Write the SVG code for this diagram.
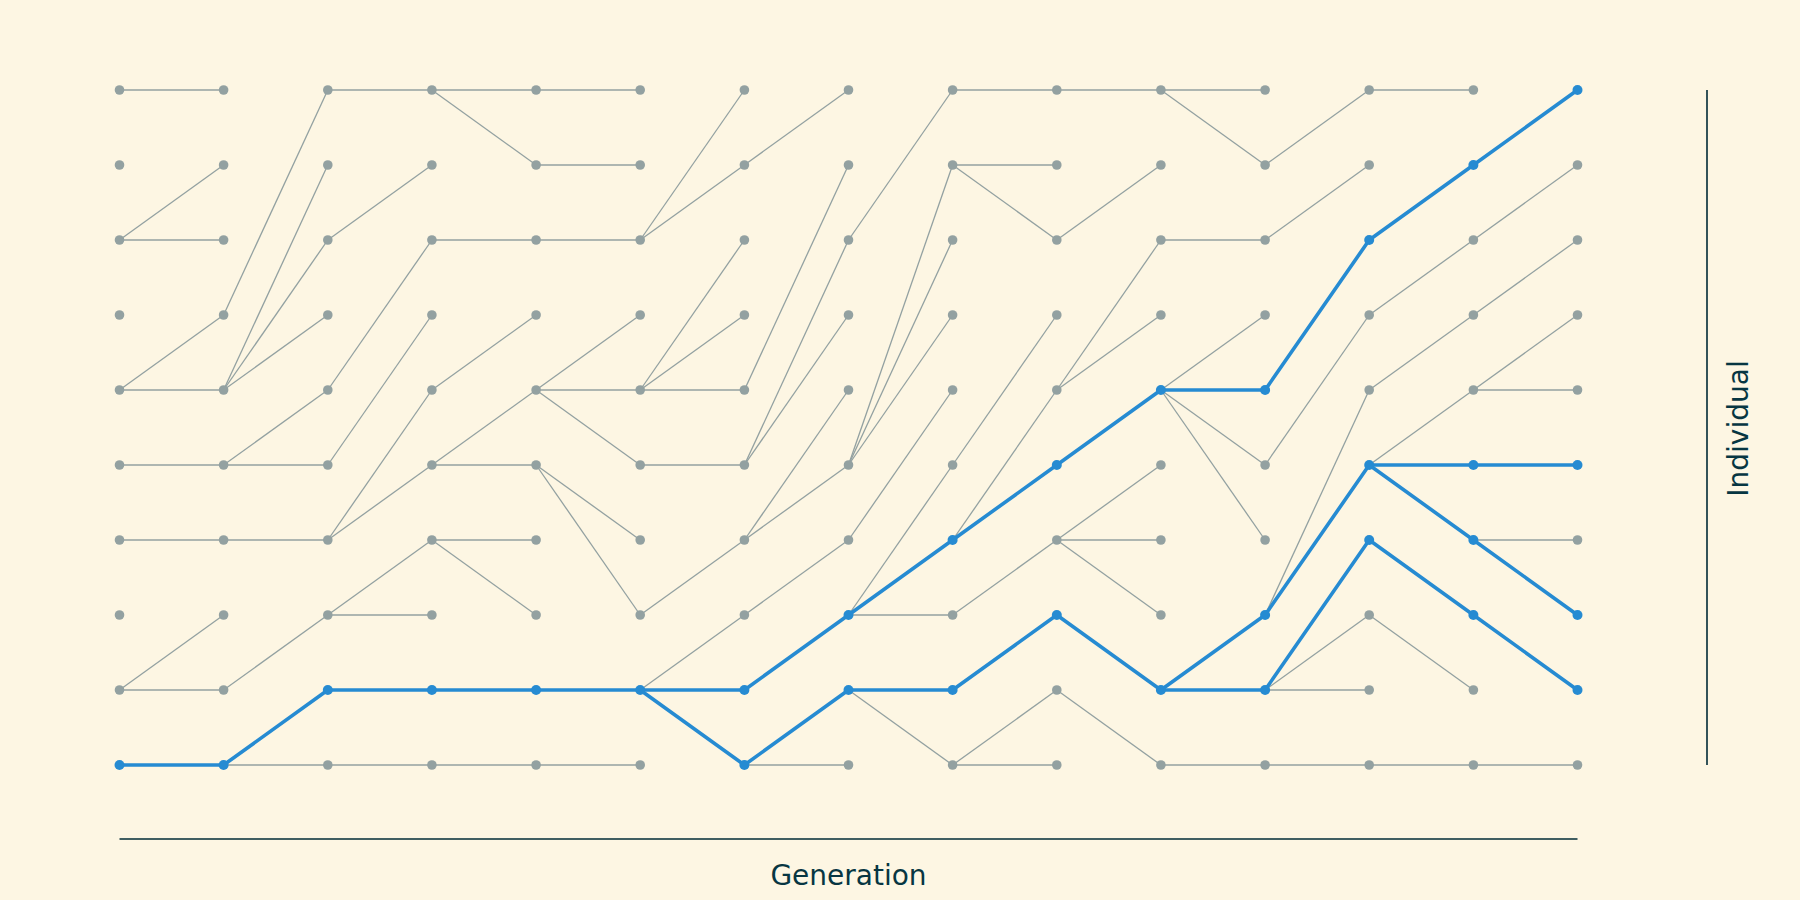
<svg xmlns="http://www.w3.org/2000/svg" width="1800" height="900" viewBox="0 0 1800 900">
<style>
.bg{fill:#fdf6e3}
.e{stroke:#93a1a1;stroke-width:1.3;fill:none}
.b{stroke:#268bd2;stroke-width:3.6;stroke-linecap:round;fill:none}
.n{fill:#93a1a1}
.nb{fill:#268bd2}
.ax{stroke:#002b36;stroke-width:1.6}
.lbl{font-family:"DejaVu Sans",sans-serif;font-size:28px;fill:#073642;text-anchor:middle}
</style>
<rect class="bg" x="0" y="0" width="1800" height="900"/>
<g id="axes">
<line class="ax" x1="119.5" y1="839" x2="1577.5" y2="839"/>
<line class="ax" x1="1707" y1="90" x2="1707" y2="765"/>
<text class="lbl" x="848.5" y="885">Generation</text>
<text class="lbl" transform="translate(1748,428.5) rotate(-90)">Individual</text>
</g>
<g id="connectors">
<line class="e" x1="119.5" y1="90" x2="223.6" y2="90"/>
<line class="e" x1="119.5" y1="240" x2="223.6" y2="165"/>
<line class="e" x1="119.5" y1="240" x2="223.6" y2="240"/>
<line class="e" x1="119.5" y1="390" x2="223.6" y2="315"/>
<line class="e" x1="119.5" y1="390" x2="223.6" y2="390"/>
<line class="e" x1="119.5" y1="465" x2="223.6" y2="465"/>
<line class="e" x1="119.5" y1="540" x2="223.6" y2="540"/>
<line class="e" x1="119.5" y1="690" x2="223.6" y2="615"/>
<line class="e" x1="119.5" y1="690" x2="223.6" y2="690"/>
<line class="e" x1="223.6" y1="315" x2="327.8" y2="90"/>
<line class="e" x1="223.6" y1="390" x2="327.8" y2="165"/>
<line class="e" x1="223.6" y1="390" x2="327.8" y2="240"/>
<line class="e" x1="223.6" y1="390" x2="327.8" y2="315"/>
<line class="e" x1="223.6" y1="465" x2="327.8" y2="390"/>
<line class="e" x1="223.6" y1="465" x2="327.8" y2="465"/>
<line class="e" x1="223.6" y1="540" x2="327.8" y2="540"/>
<line class="e" x1="223.6" y1="690" x2="327.8" y2="615"/>
<line class="e" x1="223.6" y1="765" x2="327.8" y2="765"/>
<line class="e" x1="327.8" y1="90" x2="431.9" y2="90"/>
<line class="e" x1="327.8" y1="240" x2="431.9" y2="165"/>
<line class="e" x1="327.8" y1="390" x2="431.9" y2="240"/>
<line class="e" x1="327.8" y1="465" x2="431.9" y2="315"/>
<line class="e" x1="327.8" y1="540" x2="431.9" y2="390"/>
<line class="e" x1="327.8" y1="540" x2="431.9" y2="465"/>
<line class="e" x1="327.8" y1="615" x2="431.9" y2="540"/>
<line class="e" x1="327.8" y1="615" x2="431.9" y2="615"/>
<line class="e" x1="327.8" y1="765" x2="431.9" y2="765"/>
<line class="e" x1="431.9" y1="90" x2="536.1" y2="90"/>
<line class="e" x1="431.9" y1="90" x2="536.1" y2="165"/>
<line class="e" x1="431.9" y1="240" x2="536.1" y2="240"/>
<line class="e" x1="431.9" y1="390" x2="536.1" y2="315"/>
<line class="e" x1="431.9" y1="465" x2="536.1" y2="390"/>
<line class="e" x1="431.9" y1="465" x2="536.1" y2="465"/>
<line class="e" x1="431.9" y1="540" x2="536.1" y2="540"/>
<line class="e" x1="431.9" y1="540" x2="536.1" y2="615"/>
<line class="e" x1="431.9" y1="765" x2="536.1" y2="765"/>
<line class="e" x1="536.1" y1="90" x2="640.2" y2="90"/>
<line class="e" x1="536.1" y1="165" x2="640.2" y2="165"/>
<line class="e" x1="536.1" y1="240" x2="640.2" y2="240"/>
<line class="e" x1="536.1" y1="390" x2="640.2" y2="315"/>
<line class="e" x1="536.1" y1="390" x2="640.2" y2="390"/>
<line class="e" x1="536.1" y1="390" x2="640.2" y2="465"/>
<line class="e" x1="536.1" y1="465" x2="640.2" y2="540"/>
<line class="e" x1="536.1" y1="465" x2="640.2" y2="615"/>
<line class="e" x1="536.1" y1="765" x2="640.2" y2="765"/>
<line class="e" x1="640.2" y1="240" x2="744.4" y2="90"/>
<line class="e" x1="640.2" y1="240" x2="744.4" y2="165"/>
<line class="e" x1="640.2" y1="390" x2="744.4" y2="240"/>
<line class="e" x1="640.2" y1="390" x2="744.4" y2="315"/>
<line class="e" x1="640.2" y1="390" x2="744.4" y2="390"/>
<line class="e" x1="640.2" y1="465" x2="744.4" y2="465"/>
<line class="e" x1="640.2" y1="615" x2="744.4" y2="540"/>
<line class="e" x1="640.2" y1="690" x2="744.4" y2="615"/>
<line class="e" x1="744.4" y1="165" x2="848.5" y2="90"/>
<line class="e" x1="744.4" y1="390" x2="848.5" y2="165"/>
<line class="e" x1="744.4" y1="465" x2="848.5" y2="240"/>
<line class="e" x1="744.4" y1="465" x2="848.5" y2="315"/>
<line class="e" x1="744.4" y1="540" x2="848.5" y2="390"/>
<line class="e" x1="744.4" y1="540" x2="848.5" y2="465"/>
<line class="e" x1="744.4" y1="615" x2="848.5" y2="540"/>
<line class="e" x1="744.4" y1="765" x2="848.5" y2="765"/>
<line class="e" x1="848.5" y1="240" x2="952.6" y2="90"/>
<line class="e" x1="848.5" y1="465" x2="952.6" y2="165"/>
<line class="e" x1="848.5" y1="465" x2="952.6" y2="240"/>
<line class="e" x1="848.5" y1="465" x2="952.6" y2="315"/>
<line class="e" x1="848.5" y1="540" x2="952.6" y2="390"/>
<line class="e" x1="848.5" y1="615" x2="952.6" y2="465"/>
<line class="e" x1="848.5" y1="615" x2="952.6" y2="615"/>
<line class="e" x1="848.5" y1="690" x2="952.6" y2="765"/>
<line class="e" x1="952.6" y1="90" x2="1056.8" y2="90"/>
<line class="e" x1="952.6" y1="165" x2="1056.8" y2="165"/>
<line class="e" x1="952.6" y1="165" x2="1056.8" y2="240"/>
<line class="e" x1="952.6" y1="465" x2="1056.8" y2="315"/>
<line class="e" x1="952.6" y1="540" x2="1056.8" y2="390"/>
<line class="e" x1="952.6" y1="615" x2="1056.8" y2="540"/>
<line class="e" x1="952.6" y1="765" x2="1056.8" y2="690"/>
<line class="e" x1="952.6" y1="765" x2="1056.8" y2="765"/>
<line class="e" x1="1056.8" y1="90" x2="1160.9" y2="90"/>
<line class="e" x1="1056.8" y1="240" x2="1160.9" y2="165"/>
<line class="e" x1="1056.8" y1="390" x2="1160.9" y2="240"/>
<line class="e" x1="1056.8" y1="390" x2="1160.9" y2="315"/>
<line class="e" x1="1056.8" y1="540" x2="1160.9" y2="465"/>
<line class="e" x1="1056.8" y1="540" x2="1160.9" y2="540"/>
<line class="e" x1="1056.8" y1="540" x2="1160.9" y2="615"/>
<line class="e" x1="1056.8" y1="690" x2="1160.9" y2="765"/>
<line class="e" x1="1160.9" y1="90" x2="1265.1" y2="90"/>
<line class="e" x1="1160.9" y1="90" x2="1265.1" y2="165"/>
<line class="e" x1="1160.9" y1="240" x2="1265.1" y2="240"/>
<line class="e" x1="1160.9" y1="390" x2="1265.1" y2="315"/>
<line class="e" x1="1160.9" y1="390" x2="1265.1" y2="465"/>
<line class="e" x1="1160.9" y1="390" x2="1265.1" y2="540"/>
<line class="e" x1="1160.9" y1="765" x2="1265.1" y2="765"/>
<line class="e" x1="1265.1" y1="165" x2="1369.2" y2="90"/>
<line class="e" x1="1265.1" y1="240" x2="1369.2" y2="165"/>
<line class="e" x1="1265.1" y1="465" x2="1369.2" y2="315"/>
<line class="e" x1="1265.1" y1="615" x2="1369.2" y2="390"/>
<line class="e" x1="1265.1" y1="690" x2="1369.2" y2="615"/>
<line class="e" x1="1265.1" y1="690" x2="1369.2" y2="690"/>
<line class="e" x1="1265.1" y1="765" x2="1369.2" y2="765"/>
<line class="e" x1="1369.2" y1="90" x2="1473.4" y2="90"/>
<line class="e" x1="1369.2" y1="315" x2="1473.4" y2="240"/>
<line class="e" x1="1369.2" y1="390" x2="1473.4" y2="315"/>
<line class="e" x1="1369.2" y1="465" x2="1473.4" y2="390"/>
<line class="e" x1="1369.2" y1="615" x2="1473.4" y2="690"/>
<line class="e" x1="1369.2" y1="765" x2="1473.4" y2="765"/>
<line class="e" x1="1473.4" y1="240" x2="1577.5" y2="165"/>
<line class="e" x1="1473.4" y1="315" x2="1577.5" y2="240"/>
<line class="e" x1="1473.4" y1="390" x2="1577.5" y2="315"/>
<line class="e" x1="1473.4" y1="390" x2="1577.5" y2="390"/>
<line class="e" x1="1473.4" y1="540" x2="1577.5" y2="540"/>
<line class="e" x1="1473.4" y1="765" x2="1577.5" y2="765"/>
<line class="b" x1="119.5" y1="765" x2="223.6" y2="765"/>
<line class="b" x1="223.6" y1="765" x2="327.8" y2="690"/>
<line class="b" x1="327.8" y1="690" x2="431.9" y2="690"/>
<line class="b" x1="431.9" y1="690" x2="536.1" y2="690"/>
<line class="b" x1="536.1" y1="690" x2="640.2" y2="690"/>
<line class="b" x1="640.2" y1="690" x2="744.4" y2="690"/>
<line class="b" x1="744.4" y1="690" x2="848.5" y2="615"/>
<line class="b" x1="848.5" y1="615" x2="952.6" y2="540"/>
<line class="b" x1="952.6" y1="540" x2="1056.8" y2="465"/>
<line class="b" x1="1056.8" y1="465" x2="1160.9" y2="390"/>
<line class="b" x1="1160.9" y1="390" x2="1265.1" y2="390"/>
<line class="b" x1="1265.1" y1="390" x2="1369.2" y2="240"/>
<line class="b" x1="1369.2" y1="240" x2="1473.4" y2="165"/>
<line class="b" x1="1473.4" y1="165" x2="1577.5" y2="90"/>
<line class="b" x1="640.2" y1="690" x2="744.4" y2="765"/>
<line class="b" x1="744.4" y1="765" x2="848.5" y2="690"/>
<line class="b" x1="848.5" y1="690" x2="952.6" y2="690"/>
<line class="b" x1="952.6" y1="690" x2="1056.8" y2="615"/>
<line class="b" x1="1056.8" y1="615" x2="1160.9" y2="690"/>
<line class="b" x1="1160.9" y1="690" x2="1265.1" y2="615"/>
<line class="b" x1="1265.1" y1="615" x2="1369.2" y2="465"/>
<line class="b" x1="1369.2" y1="465" x2="1473.4" y2="465"/>
<line class="b" x1="1473.4" y1="465" x2="1577.5" y2="465"/>
<line class="b" x1="1369.2" y1="465" x2="1473.4" y2="540"/>
<line class="b" x1="1473.4" y1="540" x2="1577.5" y2="615"/>
<line class="b" x1="1160.9" y1="690" x2="1265.1" y2="690"/>
<line class="b" x1="1265.1" y1="690" x2="1369.2" y2="540"/>
<line class="b" x1="1369.2" y1="540" x2="1473.4" y2="615"/>
<line class="b" x1="1473.4" y1="615" x2="1577.5" y2="690"/>
</g>
<g id="nodes">
<g id="n0-0"><circle class="n" cx="119.5" cy="90" r="4.8"/></g>
<g id="n0-1"><circle class="n" cx="119.5" cy="165" r="4.8"/></g>
<g id="n0-2"><circle class="n" cx="119.5" cy="240" r="4.8"/></g>
<g id="n0-3"><circle class="n" cx="119.5" cy="315" r="4.8"/></g>
<g id="n0-4"><circle class="n" cx="119.5" cy="390" r="4.8"/></g>
<g id="n0-5"><circle class="n" cx="119.5" cy="465" r="4.8"/></g>
<g id="n0-6"><circle class="n" cx="119.5" cy="540" r="4.8"/></g>
<g id="n0-7"><circle class="n" cx="119.5" cy="615" r="4.8"/></g>
<g id="n0-8"><circle class="n" cx="119.5" cy="690" r="4.8"/></g>
<g id="n0-9"><circle class="nb" cx="119.5" cy="765" r="5"/></g>
<g id="n1-0"><circle class="n" cx="223.6" cy="90" r="4.8"/></g>
<g id="n1-1"><circle class="n" cx="223.6" cy="165" r="4.8"/></g>
<g id="n1-2"><circle class="n" cx="223.6" cy="240" r="4.8"/></g>
<g id="n1-3"><circle class="n" cx="223.6" cy="315" r="4.8"/></g>
<g id="n1-4"><circle class="n" cx="223.6" cy="390" r="4.8"/></g>
<g id="n1-5"><circle class="n" cx="223.6" cy="465" r="4.8"/></g>
<g id="n1-6"><circle class="n" cx="223.6" cy="540" r="4.8"/></g>
<g id="n1-7"><circle class="n" cx="223.6" cy="615" r="4.8"/></g>
<g id="n1-8"><circle class="n" cx="223.6" cy="690" r="4.8"/></g>
<g id="n1-9"><circle class="nb" cx="223.6" cy="765" r="5"/></g>
<g id="n2-0"><circle class="n" cx="327.8" cy="90" r="4.8"/></g>
<g id="n2-1"><circle class="n" cx="327.8" cy="165" r="4.8"/></g>
<g id="n2-2"><circle class="n" cx="327.8" cy="240" r="4.8"/></g>
<g id="n2-3"><circle class="n" cx="327.8" cy="315" r="4.8"/></g>
<g id="n2-4"><circle class="n" cx="327.8" cy="390" r="4.8"/></g>
<g id="n2-5"><circle class="n" cx="327.8" cy="465" r="4.8"/></g>
<g id="n2-6"><circle class="n" cx="327.8" cy="540" r="4.8"/></g>
<g id="n2-7"><circle class="n" cx="327.8" cy="615" r="4.8"/></g>
<g id="n2-8"><circle class="nb" cx="327.8" cy="690" r="5"/></g>
<g id="n2-9"><circle class="n" cx="327.8" cy="765" r="4.8"/></g>
<g id="n3-0"><circle class="n" cx="431.9" cy="90" r="4.8"/></g>
<g id="n3-1"><circle class="n" cx="431.9" cy="165" r="4.8"/></g>
<g id="n3-2"><circle class="n" cx="431.9" cy="240" r="4.8"/></g>
<g id="n3-3"><circle class="n" cx="431.9" cy="315" r="4.8"/></g>
<g id="n3-4"><circle class="n" cx="431.9" cy="390" r="4.8"/></g>
<g id="n3-5"><circle class="n" cx="431.9" cy="465" r="4.8"/></g>
<g id="n3-6"><circle class="n" cx="431.9" cy="540" r="4.8"/></g>
<g id="n3-7"><circle class="n" cx="431.9" cy="615" r="4.8"/></g>
<g id="n3-8"><circle class="nb" cx="431.9" cy="690" r="5"/></g>
<g id="n3-9"><circle class="n" cx="431.9" cy="765" r="4.8"/></g>
<g id="n4-0"><circle class="n" cx="536.1" cy="90" r="4.8"/></g>
<g id="n4-1"><circle class="n" cx="536.1" cy="165" r="4.8"/></g>
<g id="n4-2"><circle class="n" cx="536.1" cy="240" r="4.8"/></g>
<g id="n4-3"><circle class="n" cx="536.1" cy="315" r="4.8"/></g>
<g id="n4-4"><circle class="n" cx="536.1" cy="390" r="4.8"/></g>
<g id="n4-5"><circle class="n" cx="536.1" cy="465" r="4.8"/></g>
<g id="n4-6"><circle class="n" cx="536.1" cy="540" r="4.8"/></g>
<g id="n4-7"><circle class="n" cx="536.1" cy="615" r="4.8"/></g>
<g id="n4-8"><circle class="nb" cx="536.1" cy="690" r="5"/></g>
<g id="n4-9"><circle class="n" cx="536.1" cy="765" r="4.8"/></g>
<g id="n5-0"><circle class="n" cx="640.2" cy="90" r="4.8"/></g>
<g id="n5-1"><circle class="n" cx="640.2" cy="165" r="4.8"/></g>
<g id="n5-2"><circle class="n" cx="640.2" cy="240" r="4.8"/></g>
<g id="n5-3"><circle class="n" cx="640.2" cy="315" r="4.8"/></g>
<g id="n5-4"><circle class="n" cx="640.2" cy="390" r="4.8"/></g>
<g id="n5-5"><circle class="n" cx="640.2" cy="465" r="4.8"/></g>
<g id="n5-6"><circle class="n" cx="640.2" cy="540" r="4.8"/></g>
<g id="n5-7"><circle class="n" cx="640.2" cy="615" r="4.8"/></g>
<g id="n5-8"><circle class="nb" cx="640.2" cy="690" r="5"/></g>
<g id="n5-9"><circle class="n" cx="640.2" cy="765" r="4.8"/></g>
<g id="n6-0"><circle class="n" cx="744.4" cy="90" r="4.8"/></g>
<g id="n6-1"><circle class="n" cx="744.4" cy="165" r="4.8"/></g>
<g id="n6-2"><circle class="n" cx="744.4" cy="240" r="4.8"/></g>
<g id="n6-3"><circle class="n" cx="744.4" cy="315" r="4.8"/></g>
<g id="n6-4"><circle class="n" cx="744.4" cy="390" r="4.8"/></g>
<g id="n6-5"><circle class="n" cx="744.4" cy="465" r="4.8"/></g>
<g id="n6-6"><circle class="n" cx="744.4" cy="540" r="4.8"/></g>
<g id="n6-7"><circle class="n" cx="744.4" cy="615" r="4.8"/></g>
<g id="n6-8"><circle class="nb" cx="744.4" cy="690" r="5"/></g>
<g id="n6-9"><circle class="nb" cx="744.4" cy="765" r="5"/></g>
<g id="n7-0"><circle class="n" cx="848.5" cy="90" r="4.8"/></g>
<g id="n7-1"><circle class="n" cx="848.5" cy="165" r="4.8"/></g>
<g id="n7-2"><circle class="n" cx="848.5" cy="240" r="4.8"/></g>
<g id="n7-3"><circle class="n" cx="848.5" cy="315" r="4.8"/></g>
<g id="n7-4"><circle class="n" cx="848.5" cy="390" r="4.8"/></g>
<g id="n7-5"><circle class="n" cx="848.5" cy="465" r="4.8"/></g>
<g id="n7-6"><circle class="n" cx="848.5" cy="540" r="4.8"/></g>
<g id="n7-7"><circle class="nb" cx="848.5" cy="615" r="5"/></g>
<g id="n7-8"><circle class="nb" cx="848.5" cy="690" r="5"/></g>
<g id="n7-9"><circle class="n" cx="848.5" cy="765" r="4.8"/></g>
<g id="n8-0"><circle class="n" cx="952.6" cy="90" r="4.8"/></g>
<g id="n8-1"><circle class="n" cx="952.6" cy="165" r="4.8"/></g>
<g id="n8-2"><circle class="n" cx="952.6" cy="240" r="4.8"/></g>
<g id="n8-3"><circle class="n" cx="952.6" cy="315" r="4.8"/></g>
<g id="n8-4"><circle class="n" cx="952.6" cy="390" r="4.8"/></g>
<g id="n8-5"><circle class="n" cx="952.6" cy="465" r="4.8"/></g>
<g id="n8-6"><circle class="nb" cx="952.6" cy="540" r="5"/></g>
<g id="n8-7"><circle class="n" cx="952.6" cy="615" r="4.8"/></g>
<g id="n8-8"><circle class="nb" cx="952.6" cy="690" r="5"/></g>
<g id="n8-9"><circle class="n" cx="952.6" cy="765" r="4.8"/></g>
<g id="n9-0"><circle class="n" cx="1056.8" cy="90" r="4.8"/></g>
<g id="n9-1"><circle class="n" cx="1056.8" cy="165" r="4.8"/></g>
<g id="n9-2"><circle class="n" cx="1056.8" cy="240" r="4.8"/></g>
<g id="n9-3"><circle class="n" cx="1056.8" cy="315" r="4.8"/></g>
<g id="n9-4"><circle class="n" cx="1056.8" cy="390" r="4.8"/></g>
<g id="n9-5"><circle class="nb" cx="1056.8" cy="465" r="5"/></g>
<g id="n9-6"><circle class="n" cx="1056.8" cy="540" r="4.8"/></g>
<g id="n9-7"><circle class="nb" cx="1056.8" cy="615" r="5"/></g>
<g id="n9-8"><circle class="n" cx="1056.8" cy="690" r="4.8"/></g>
<g id="n9-9"><circle class="n" cx="1056.8" cy="765" r="4.8"/></g>
<g id="n10-0"><circle class="n" cx="1160.9" cy="90" r="4.8"/></g>
<g id="n10-1"><circle class="n" cx="1160.9" cy="165" r="4.8"/></g>
<g id="n10-2"><circle class="n" cx="1160.9" cy="240" r="4.8"/></g>
<g id="n10-3"><circle class="n" cx="1160.9" cy="315" r="4.8"/></g>
<g id="n10-4"><circle class="nb" cx="1160.9" cy="390" r="5"/></g>
<g id="n10-5"><circle class="n" cx="1160.9" cy="465" r="4.8"/></g>
<g id="n10-6"><circle class="n" cx="1160.9" cy="540" r="4.8"/></g>
<g id="n10-7"><circle class="n" cx="1160.9" cy="615" r="4.8"/></g>
<g id="n10-8"><circle class="nb" cx="1160.9" cy="690" r="5"/></g>
<g id="n10-9"><circle class="n" cx="1160.9" cy="765" r="4.8"/></g>
<g id="n11-0"><circle class="n" cx="1265.1" cy="90" r="4.8"/></g>
<g id="n11-1"><circle class="n" cx="1265.1" cy="165" r="4.8"/></g>
<g id="n11-2"><circle class="n" cx="1265.1" cy="240" r="4.8"/></g>
<g id="n11-3"><circle class="n" cx="1265.1" cy="315" r="4.8"/></g>
<g id="n11-4"><circle class="nb" cx="1265.1" cy="390" r="5"/></g>
<g id="n11-5"><circle class="n" cx="1265.1" cy="465" r="4.8"/></g>
<g id="n11-6"><circle class="n" cx="1265.1" cy="540" r="4.8"/></g>
<g id="n11-7"><circle class="nb" cx="1265.1" cy="615" r="5"/></g>
<g id="n11-8"><circle class="nb" cx="1265.1" cy="690" r="5"/></g>
<g id="n11-9"><circle class="n" cx="1265.1" cy="765" r="4.8"/></g>
<g id="n12-0"><circle class="n" cx="1369.2" cy="90" r="4.8"/></g>
<g id="n12-1"><circle class="n" cx="1369.2" cy="165" r="4.8"/></g>
<g id="n12-2"><circle class="nb" cx="1369.2" cy="240" r="5"/></g>
<g id="n12-3"><circle class="n" cx="1369.2" cy="315" r="4.8"/></g>
<g id="n12-4"><circle class="n" cx="1369.2" cy="390" r="4.8"/></g>
<g id="n12-5"><circle class="nb" cx="1369.2" cy="465" r="5"/></g>
<g id="n12-6"><circle class="nb" cx="1369.2" cy="540" r="5"/></g>
<g id="n12-7"><circle class="n" cx="1369.2" cy="615" r="4.8"/></g>
<g id="n12-8"><circle class="n" cx="1369.2" cy="690" r="4.8"/></g>
<g id="n12-9"><circle class="n" cx="1369.2" cy="765" r="4.8"/></g>
<g id="n13-0"><circle class="n" cx="1473.4" cy="90" r="4.8"/></g>
<g id="n13-1"><circle class="nb" cx="1473.4" cy="165" r="5"/></g>
<g id="n13-2"><circle class="n" cx="1473.4" cy="240" r="4.8"/></g>
<g id="n13-3"><circle class="n" cx="1473.4" cy="315" r="4.8"/></g>
<g id="n13-4"><circle class="n" cx="1473.4" cy="390" r="4.8"/></g>
<g id="n13-5"><circle class="nb" cx="1473.4" cy="465" r="5"/></g>
<g id="n13-6"><circle class="nb" cx="1473.4" cy="540" r="5"/></g>
<g id="n13-7"><circle class="nb" cx="1473.4" cy="615" r="5"/></g>
<g id="n13-8"><circle class="n" cx="1473.4" cy="690" r="4.8"/></g>
<g id="n13-9"><circle class="n" cx="1473.4" cy="765" r="4.8"/></g>
<g id="n14-0"><circle class="nb" cx="1577.5" cy="90" r="5"/></g>
<g id="n14-1"><circle class="n" cx="1577.5" cy="165" r="4.8"/></g>
<g id="n14-2"><circle class="n" cx="1577.5" cy="240" r="4.8"/></g>
<g id="n14-3"><circle class="n" cx="1577.5" cy="315" r="4.8"/></g>
<g id="n14-4"><circle class="n" cx="1577.5" cy="390" r="4.8"/></g>
<g id="n14-5"><circle class="nb" cx="1577.5" cy="465" r="5"/></g>
<g id="n14-6"><circle class="n" cx="1577.5" cy="540" r="4.8"/></g>
<g id="n14-7"><circle class="nb" cx="1577.5" cy="615" r="5"/></g>
<g id="n14-8"><circle class="nb" cx="1577.5" cy="690" r="5"/></g>
<g id="n14-9"><circle class="n" cx="1577.5" cy="765" r="4.8"/></g>
</g>
</svg>
